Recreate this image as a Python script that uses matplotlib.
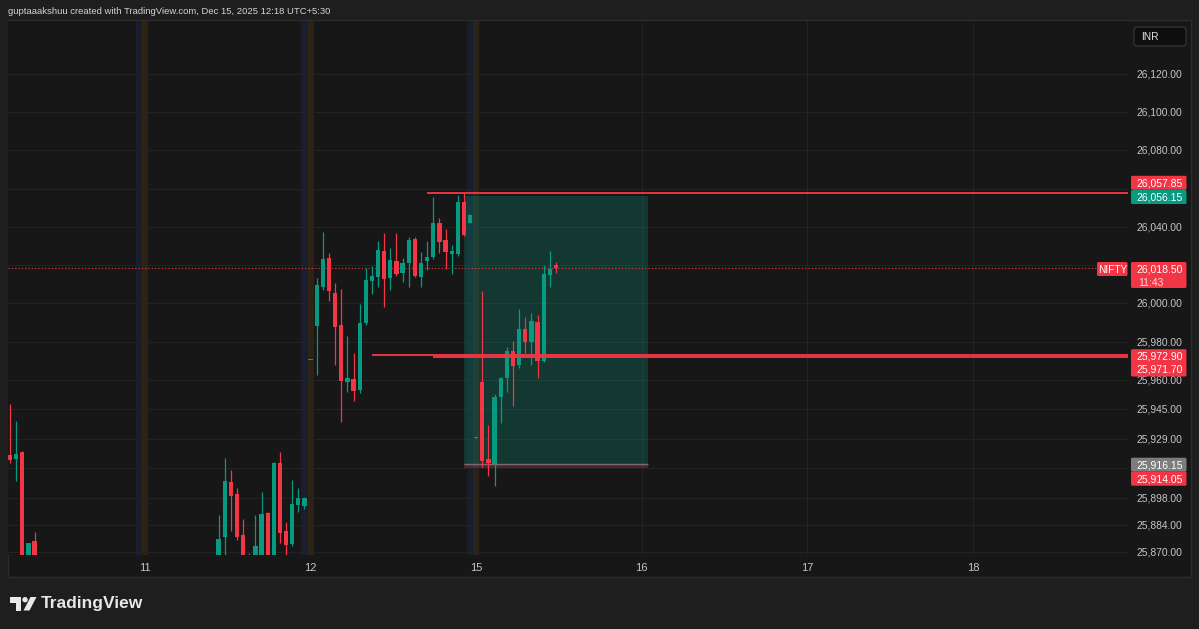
import matplotlib
matplotlib.use('Agg')
import matplotlib.pyplot as plt
from matplotlib.patches import Rectangle, FancyBboxPatch, Circle, Polygon

plt.rcParams['font.family'] = ['Liberation Sans', 'DejaVu Sans']

W, H = 1199, 629

GREEN = '#089981'
RED = '#f23645'
BG = '#171717'
OUTER = '#1e1e1e'
GRID = '#232323'
TXT = '#c3c5ca'

# every trading day takes 27 slots of 15 min: pre-market, 25 regular, post-market
SLOTS = 27
day_labels = ['11', '12', '15', '16', '17', '18']

# candles per day: (slot in day, open, high, low, close)
dec10 = [
    (5, 25920.6, 25947.4, 25916.7, 25918.1),
    (6, 25918.6, 25938.5, 25907.3, 25921.2),
    (7, 25922.4, 25923.0, 25850.0, 25855.0),
    (8, 25852.0, 25874.5, 25848.0, 25874.5),
    (9, 25875.7, 25880.3, 25850.0, 25856.0),
]
dec11 = [
    (12, 25860.0, 25889.3, 25855.0, 25876.6),
    (13, 25878.0, 25919.0, 25864.0, 25907.3),
    (14, 25906.7, 25912.9, 25881.1, 25899.3),
    (15, 25900.2, 25903.3, 25876.3, 25878.0),
    (16, 25878.9, 25887.2, 25858.0, 25862.0),
    (17, 25864.0, 25869.6, 25860.0, 25866.0),
    (18, 25865.0, 25889.3, 25860.0, 25873.1),
    (19, 25866.0, 25901.5, 25862.0, 25889.9),
    (20, 25890.5, 25891.0, 25860.0, 25864.0),
    (21, 25865.0, 25917.0, 25862.0, 25916.4),
    (22, 25916.7, 25922.4, 25874.5, 25880.1),
    (23, 25881.1, 25885.8, 25868.0, 25873.6),
    (24, 25874.2, 25907.6, 25873.1, 25895.1),
    (25, 25894.6, 25903.3, 25891.1, 25898.1),
    (26, 25894.0, 25898.5, 25892.5, 25898.1),
]
dec12 = [
    (0, 25970.4, 25970.6, 25970.2, 25970.5),
    (1, 25988.3, 26013.1, 25962.6, 26009.6),
    (2, 26008.4, 26037.5, 26007.0, 26023.2),
    (3, 26023.9, 26026.5, 26001.4, 26006.6),
    (4, 26005.6, 26010.5, 25967.8, 25987.8),
    (5, 25988.7, 26007.5, 25938.1, 25959.6),
    (6, 25959.0, 25982.9, 25953.8, 25960.8),
    (7, 25960.5, 25974.2, 25949.0, 25954.2),
    (8, 25954.7, 25999.7, 25953.0, 25989.9),
    (9, 25989.6, 26018.4, 25988.7, 26012.2),
    (10, 26011.9, 26019.6, 26004.9, 26014.3),
    (11, 26013.7, 26032.8, 26008.4, 26027.9),
    (12, 26027.6, 26037.0, 25998.3, 26012.8),
    (13, 26013.1, 26028.8, 26007.0, 26022.7),
    (14, 26022.2, 26037.0, 26014.3, 26015.2),
    (15, 26015.7, 26023.6, 26011.3, 26021.3),
    (16, 26021.3, 26034.9, 26008.4, 26033.2),
    (17, 26033.8, 26034.9, 26013.8, 26014.3),
    (18, 26014.0, 26027.0, 26008.4, 26021.0),
    (19, 26022.2, 26032.6, 26017.5, 26024.1),
    (20, 26024.4, 26055.5, 26023.1, 26042.2),
    (21, 26042.2, 26044.5, 26026.5, 26032.3),
    (22, 26033.2, 26038.8, 26017.8, 26027.0),
    (23, 26025.7, 26030.5, 26015.4, 26027.6),
    (24, 26025.8, 26056.5, 26024.8, 26053.2),
    (25, 26053.2, 26057.85, 26035.5, 26035.8),
    (26, 26042.2, 26046.5, 26041.8, 26046.2),
]
dec15 = [
    (0, 25929.4, 25929.6, 25929.2, 25929.5),
    (1, 25959.0, 26006.6, 25914.6, 25917.7),
    (2, 25918.5, 25936.4, 25909.7, 25916.4),
    (3, 25916.0, 25952.6, 25904.5, 25951.2),
    (4, 25950.9, 25961.7, 25937.3, 25960.8),
    (5, 25960.8, 25977.0, 25953.8, 25975.3),
    (6, 25975.3, 25980.5, 25946.3, 25967.3),
    (7, 25967.8, 25996.9, 25966.1, 25986.5),
    (8, 25986.5, 25993.0, 25973.9, 25980.0),
    (9, 25980.0, 25994.8, 25967.8, 25991.0),
    (10, 25990.4, 25993.9, 25960.8, 25970.0),
    (11, 25970.0, 26020.1, 25969.4, 26015.4),
    (12, 26014.9, 26027.6, 26008.4, 26017.8),
    (13, 26020.2, 26021.8, 26016.1, 26018.5),
]
# (candles, day index on the time axis, session finished)
days = [(dec10, -1, True), (dec11, 0, True), (dec12, 1, True), (dec15, 2, False)]

price_ticks = [26120, 26100, 26080, 26060, 26040, 26020, 26000, 25980,
               25960, 25945, 25929, 25914, 25898, 25884, 25870]
# tick labels that sit fully under the price tags
hidden_ticks = [26060, 26020, 25914]

last_price = 26018.50
countdown = '11:43'
# long position tool
entry, target, stop = 25916.15, 26056.15, 25914.05
pos_from, pos_to = 52, 82
# horizontal rays (price, start slot)
rays = [(26057.85, 46), (25972.90, 37), (25971.70, 47)]

# pixel layout of the pane
AX_L, AX_R, AX_T, AX_B = 8, 1128, 21, 555
XMIN, XMAX = -22.34, 160.28
YMIN, YMAX = 25868.4, 26147.7

fig = plt.figure(figsize=(W / 100, H / 100), dpi=100, facecolor=OUTER)
fig.add_artist(Rectangle((8 / W, (H - 577) / H), 1183 / W, 557 / H,
                         transform=fig.transFigure, fc=BG, ec='#2c2c2c',
                         lw=1, zorder=-1))

ax = fig.add_axes([AX_L / W, (H - AX_B) / H, (AX_R - AX_L) / W, (AX_B - AX_T) / H])
ax.set_facecolor(BG)
ax.set_xlim(XMIN, XMAX)
ax.set_ylim(YMIN, YMAX)
for s in ax.spines.values():
    s.set_visible(False)
ax.set_yticks(price_ticks)
ax.tick_params(axis='y', left=False, labelleft=False)
ax.set_xticks([i * SLOTS for i in range(len(day_labels))])
ax.set_xticklabels(day_labels)
ax.tick_params(axis='x', length=0, pad=6, colors=TXT, labelsize=8)
ax.grid(True, color=GRID, lw=0.75)
ax.set_axisbelow(True)

# extended-hours shading
for candles, d, done in days:
    base = d * SLOTS
    ax.axvspan(base - 0.5, base + 0.5, color='#ff9800', alpha=0.1, lw=0, zorder=0.5)
    if done:
        ax.axvspan(base + SLOTS - 1.5, base + SLOTS - 0.5, color='#2962ff', alpha=0.1, lw=0, zorder=0.5)

# position box
ax.add_patch(Rectangle((pos_from, entry), pos_to - pos_from, target - entry,
                       fc=GREEN, alpha=0.25, lw=0, zorder=1))
ax.add_patch(Rectangle((pos_from, stop), pos_to - pos_from, entry - stop,
                       fc=RED, alpha=0.3, lw=0, zorder=1))
ax.hlines(entry, pos_from, pos_to, color='#6f7078', lw=1, zorder=1.5)

# candles
for candles, d, done in days:
    base = d * SLOTS
    for slot, o, h, l, c in candles:
        x = base + slot
        col = GREEN if c >= o else RED
        ax.vlines(x, l, h, color=col, lw=0.9, zorder=3)
        ax.bar(x, max(abs(c - o), 0.6), width=0.7, bottom=min(o, c),
               color=col, lw=0, zorder=3)

for p, x0 in rays:
    ax.hlines(p, x0, XMAX, color=RED, lw=1.35, zorder=4)
ax.axhline(last_price, color=RED, lw=0.8, ls=(0, (1, 2)), zorder=2)

# overlay in pixel coordinates
ov = fig.add_axes([0, 0, 1, 1], zorder=5)
ov.set_xlim(0, W)
ov.set_ylim(H, 0)
ov.axis('off')


def to_px(price):
    return H - ax.transData.transform((0, price))[1]


clip = Rectangle((AX_R, AX_T), 64, AX_B - AX_T, transform=ov.transData)
for p in price_ticks:
    if p in hidden_ticks:
        continue
    t = ov.text(1182.5, to_px(p) + 0.5, f'{p:,.2f}', ha='right', va='center',
                color=TXT, fontsize=7.4)
    t.set_clip_path(clip)


def tag(price, color, dy=0):
    yc = to_px(price) + dy
    ov.add_patch(FancyBboxPatch((1131, yc - 7), 55.5, 14,
                                boxstyle='round,pad=0,rounding_size=1.5',
                                fc=color, ec='none', zorder=5))
    ov.text(1182.5, yc + 0.5, f'{price:,.2f}', ha='right', va='center',
            color='white', fontsize=7.5, zorder=6)


tag(26057.85, RED, -10)
tag(target, GREEN, 1)
tag(25972.90, RED, 1)
tag(25971.70, RED, 12)
tag(entry, '#7d7d7d', 1)
tag(stop, RED, 11)

# last price with countdown
yl = to_px(last_price)
ov.add_patch(FancyBboxPatch((1131, yl - 6), 55.5, 26,
                            boxstyle='round,pad=0,rounding_size=1.5',
                            fc=RED, ec='none', zorder=5))
ov.text(1182.5, yl + 1.5, f'{last_price:,.2f}', ha='right', va='center',
        color='white', fontsize=7.5, zorder=6)
ov.text(1138, yl + 14.5, countdown, ha='left', va='center',
        color='#f7dde0', fontsize=7.5, zorder=6)
ov.add_patch(FancyBboxPatch((1097, yl - 6), 30.5, 14,
                            boxstyle='round,pad=0,rounding_size=1.5',
                            fc=RED, ec='none', zorder=5))
ov.text(1112.3, yl + 1.5, 'NIFTY', ha='center', va='center',
        color='white', fontsize=7.3, zorder=6)

# currency button
ov.add_patch(FancyBboxPatch((1134, 27), 52, 19, boxstyle='round,pad=0,rounding_size=3',
                            fc='#0e0e0e', ec='#3a3a3a', lw=0.8))
ov.text(1141, 37, 'INR', ha='left', va='center', color='#e0e0e0', fontsize=7.3)

# header
ov.text(8, 12, 'guptaaakshuu created with TradingView.com, Dec 15, 2025 12:18 UTC+5:30',
        ha='left', va='center', color='#d1d4dc', fontsize=6.8)

# TradingView logo
LOGO = '#e8e8e8'
ov.add_patch(Polygon([(10, 597), (21, 597), (21, 610.5), (15.5, 610.5), (15.5, 602.5), (10, 602.5)],
                     closed=True, fc=LOGO, ec='none'))
ov.add_patch(Circle((25, 599.7), 2.7, fc=LOGO, ec='none'))
ov.add_patch(Polygon([(30.5, 597), (36.5, 597), (29.5, 610.5), (23.5, 610.5)],
                     closed=True, fc=LOGO, ec='none'))
ov.text(41, 603.5, 'TradingView', ha='left', va='center', color=LOGO,
        fontsize=12.5, fontweight='bold')

fig.savefig('out.png', dpi=100, facecolor=OUTER)
